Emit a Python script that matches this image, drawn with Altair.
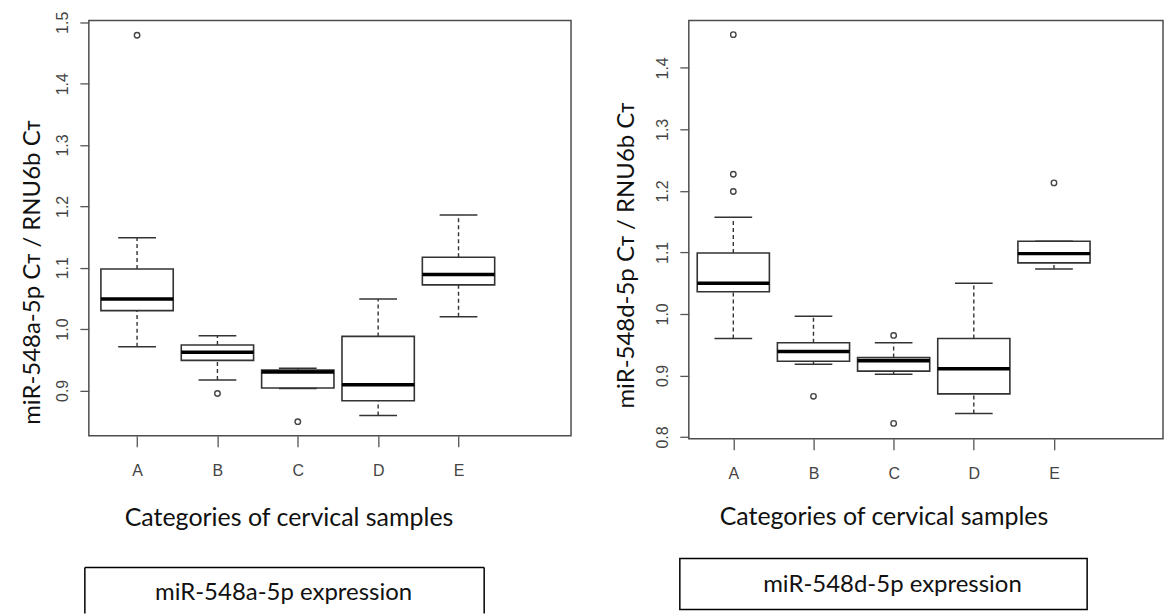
import altair as alt
import pandas as pd

categories = ["A", "B", "C", "D", "E"]
positions = [1, 2, 3, 4, 5]

# miR-548a-5p panel (five-number summaries)
a_low = [0.971, 0.917, 0.903, 0.859, 1.020]
a_q1 = [1.030, 0.949, 0.904, 0.883, 1.072]
a_med = [1.049, 0.962, 0.930, 0.909, 1.089]
a_q3 = [1.098, 0.974, 0.933, 0.988, 1.117]
a_high = [1.149, 0.989, 0.936, 1.049, 1.186]
a_out_cat = ["A", "B", "C"]
a_out_val = [1.479, 0.895, 0.849]

# miR-548d-5p panel
d_low = [0.960, 0.918, 0.902, 0.838, 1.073]
d_q1 = [1.036, 0.923, 0.907, 0.870, 1.083]
d_med = [1.050, 0.939, 0.924, 0.911, 1.098]
d_q3 = [1.099, 0.953, 0.929, 0.960, 1.118]
d_high = [1.157, 0.996, 0.953, 1.050, 1.118]
d_out_cat = ["A", "A", "A", "B", "C", "C", "E"]
d_out_val = [1.454, 1.227, 1.199, 0.866, 0.965, 0.822, 1.213]

a_ticks = [0.9, 1.0, 1.1, 1.2, 1.3, 1.4, 1.5]
d_ticks = [0.8, 0.9, 1.0, 1.1, 1.2, 1.3, 1.4]

x_title = "Categories of cervical samples"
a_y_title = "miR-548a-5p C\u1d1b / RNU6b C\u1d1b"
d_y_title = "miR-548d-5p C\u1d1b / RNU6b C\u1d1b"
panel_labels = ["miR-548a-5p expression", "miR-548d-5p expression"]

TITLE_FONT = "Lato"
TICK_FONT = "Liberation Sans"
label_expr = "[" + ",".join("'%s'" % c for c in categories) + "][datum.value - 1]"


def panel(low, q1, med, q3, high, out_cat, out_val, ydomain, yticks, xdomain,
          width, height, ytitle, ytitle_xy, xtitle_xy, label, box_spec):
    stats = pd.DataFrame({"cat": categories, "pos": positions, "lo": low,
                          "q1": q1, "med": med, "q3": q3, "hi": high})
    out = pd.DataFrame({"cat": out_cat, "val": out_val})
    out["pos"] = out["cat"].map(dict(zip(categories, positions)))

    xscale = alt.Scale(domain=xdomain, nice=False, zero=False)
    yscale = alt.Scale(domain=ydomain, nice=False, zero=False)
    xaxis = alt.Axis(values=positions, labelExpr=label_expr, title=x_title,
                     grid=False, domain=False, tickSize=11, tickColor="#555",
                     tickWidth=1.3, labelFont=TICK_FONT, labelFontSize=16,
                     labelColor="#444", labelPadding=16, labelAngle=0,
                     titleFont=TITLE_FONT, titleFontSize=25, titleFontWeight="normal",
                     titleColor="#111", titleX=xtitle_xy[0], titleY=xtitle_xy[1],
                     titleBaseline="middle", titleAlign="center")
    yaxis = alt.Axis(values=yticks, format=".1f", title=ytitle, grid=False,
                     domain=False, tickSize=9, tickColor="#555", tickWidth=1.3,
                     labelFont=TICK_FONT, labelFontSize=16, labelColor="#444",
                     labelAngle=270, labelAlign="center", labelBaseline="alphabetic",
                     labelPadding=12, titleFont=TITLE_FONT, titleFontSize=24,
                     titleFontWeight="normal", titleColor="#111",
                     titleX=ytitle_xy[0], titleY=ytitle_xy[1], titleAngle=270,
                     titleBaseline="middle", titleAlign="center")

    def X(f):
        return alt.X(f, type="quantitative", scale=xscale, axis=xaxis)

    def Y(f):
        return alt.Y(f, type="quantitative", scale=yscale, axis=yaxis)

    base = alt.Chart(stats)
    dash = [4, 3]
    w_up = base.mark_rule(color="#333", strokeWidth=1.4, strokeDash=dash).encode(
        x=X("pos"), y=Y("q3"), y2="hi")
    w_dn = base.mark_rule(color="#333", strokeWidth=1.4, strokeDash=dash).encode(
        x=X("pos"), y=Y("lo"), y2="q1")
    capped = base.transform_calculate(cl="datum.pos - 0.235", cr="datum.pos + 0.235",
                                      bl="datum.pos - 0.45", br="datum.pos + 0.45")
    cap_up = capped.mark_rule(color="#333", strokeWidth=1.5).encode(
        x=X("cl"), x2="cr", y=Y("hi"))
    cap_dn = capped.mark_rule(color="#333", strokeWidth=1.5).encode(
        x=X("cl"), x2="cr", y=Y("lo"))
    box = capped.mark_rect(fill="white", stroke="#333", strokeWidth=1.6).encode(
        x=X("bl"), x2="br", y=Y("q1"), y2="q3")
    median = capped.mark_rule(color="black", strokeWidth=3.5).encode(
        x=X("bl"), x2="br", y=Y("med"))
    pts = alt.Chart(out).mark_point(shape="circle", filled=False, size=30,
                                    color="#444", strokeWidth=1.4, opacity=1).encode(
        x=X("pos"), y=Y("val"))

    lab = alt.Chart(pd.DataFrame({"label": [label]}))
    bx0, bx1, by0, by1, tx, ty, open_bottom = box_spec
    if open_bottom:
        frame = [
            lab.mark_rule(color="black", strokeWidth=1.5).encode(
                x=alt.value(bx0), x2=alt.value(bx1), y=alt.value(by0)),
            lab.mark_rule(color="black", strokeWidth=1.5).encode(
                x=alt.value(bx0), y=alt.value(by0), y2=alt.value(by1)),
            lab.mark_rule(color="black", strokeWidth=1.5).encode(
                x=alt.value(bx1), y=alt.value(by0), y2=alt.value(by1)),
        ]
    else:
        frame = [lab.mark_rect(fill="white", stroke="black", strokeWidth=1.5).encode(
            x=alt.value(bx0), x2=alt.value(bx1), y=alt.value(by0), y2=alt.value(by1))]
    text = lab.mark_text(font=TITLE_FONT, fontSize=24, color="#111",
                         baseline="middle", align="center").encode(
        x=alt.value(tx), y=alt.value(ty), text="label:N")

    return alt.layer(w_up, w_dn, box, median, cap_up, cap_dn, pts, *frame, text).properties(
        width=width, height=height)


left = panel(a_low, a_q1, a_med, a_q3, a_high, a_out_cat, a_out_val,
             [0.826, 1.503], a_ticks, [0.4, 6.4], 483, 416, a_y_title,
             (-56, 252), (200, 82), panel_labels[0],
             (-4, 396, 548, 594, 195, 574, True))
right = panel(d_low, d_q1, d_med, d_q3, d_high, d_out_cat, d_out_val,
              [0.797, 1.477], d_ticks, [0.445, 6.36], 475, 419, d_y_title,
              (-62, 235), (195, 78), panel_labels[1],
              (9 - 18, 399, 539, 590, 204, 565, False))

chart = alt.hconcat(left, right, spacing=42).resolve_scale(
    y="independent", x="independent"
).properties(
    padding={"left": 20, "top": 9, "right": 0, "bottom": 0}
).configure(background="white").configure_view(stroke="#4d4d4d", strokeWidth=1.5)

chart.save("out.html", embed_options={"renderer": "svg", "actions": False})
